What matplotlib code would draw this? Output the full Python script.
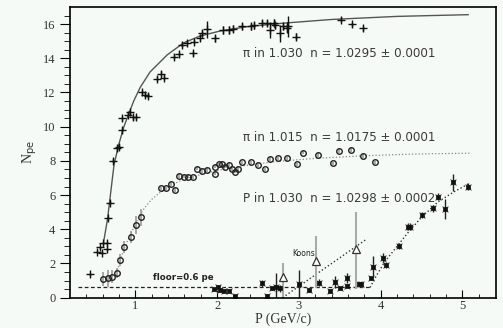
import numpy as np
import matplotlib.pyplot as plt

# pi in 1.030 aerogel (crosses)
pi30_x = [0.44, 0.53, 0.57, 0.59, 0.61, 0.65, 0.65, 0.67, 0.69, 0.73, 0.78, 0.80, 0.84, 0.84,
          0.91, 0.93, 0.97, 1.01, 1.08, 1.12, 1.16, 1.26, 1.31, 1.35, 1.47, 1.54, 1.57, 1.63,
          1.71, 1.72, 1.79, 1.82, 1.88, 1.98, 2.07, 2.14, 2.20, 2.30, 2.41, 2.45, 2.55, 2.61,
          2.65, 2.69, 2.71, 2.77, 2.81, 2.85, 2.87, 2.97, 3.51, 3.65, 3.78]
pi30_y = [1.37, 2.69, 2.95, 2.63, 3.18, 3.22, 2.83, 4.64, 5.56, 8.0, 8.74, 8.84, 9.8, 10.5,
          10.7, 10.83, 10.55, 10.55, 12.0, 11.86, 11.8, 12.8, 13.1, 12.87, 14.1, 14.24, 14.8, 14.88,
          14.3, 14.98, 15.2, 15.47, 15.7, 15.18, 15.66, 15.66, 15.72, 15.86, 15.86, 15.92, 16.06, 16.06,
          15.66, 16.06, 15.92, 15.47, 15.86, 15.8, 15.86, 15.27, 16.25, 16.0, 15.76]
pi30_err = [0.1, 0.1, 0.1, 0.1, 0.1, 0.1, 0.1, 0.1, 0.1, 0.15, 0.15, 0.15, 0.15, 0.15,
            0.15, 0.15, 0.15, 0.15, 0.15, 0.15, 0.15, 0.15, 0.15, 0.15, 0.15, 0.15, 0.15, 0.15,
            0.15, 0.15, 0.2, 0.2, 0.5, 0.2, 0.25, 0.25, 0.2, 0.2, 0.2, 0.2, 0.2, 0.2,
            0.45, 0.25, 0.2, 0.5, 0.2, 0.3, 0.6, 0.2, 0.15, 0.15, 0.15]

# pi in 1.015 aerogel (circles)
pi15_x = [0.61, 0.67, 0.72, 0.77, 0.81, 0.86, 0.95, 1.01, 1.07, 1.31, 1.37, 1.44, 1.49, 1.53,
          1.59, 1.65, 1.71, 1.75, 1.82, 1.88, 1.97, 1.97, 2.02, 2.06, 2.10, 2.14, 2.18, 2.22,
          2.26, 2.30, 2.41, 2.50, 2.59, 2.65, 2.75, 2.86, 2.98, 3.05, 3.23, 3.42, 3.49, 3.64,
          3.78, 3.93]
pi15_y = [1.08, 1.13, 1.23, 1.46, 2.2, 2.97, 3.53, 4.25, 4.7, 6.4, 6.4, 6.67, 6.3, 7.12,
          7.08, 7.08, 7.04, 7.55, 7.42, 7.47, 7.26, 7.67, 7.8, 7.8, 7.67, 7.77, 7.51, 7.37,
          7.53, 7.92, 7.92, 7.77, 7.51, 8.12, 8.15, 8.15, 7.8, 8.48, 8.35, 7.86, 8.58, 8.64,
          8.29, 7.92]
pi15_err = [0.4, 0.5, 0.4, 0.3, 0.35, 0.35, 0.35, 0.5, 0.5, 0.1, 0.1, 0.1, 0.1, 0.1,
            0.1, 0.1, 0.1, 0.1, 0.1, 0.1, 0.1, 0.1, 0.1, 0.1, 0.1, 0.1, 0.1, 0.1,
            0.1, 0.1, 0.1, 0.1, 0.1, 0.1, 0.1, 0.1, 0.1, 0.1, 0.1, 0.1, 0.1, 0.1,
            0.1, 0.1]

# protons in 1.030 aerogel (stars)
p30_x = [1.96, 2.01, 2.04, 2.09, 2.15, 2.22, 2.55, 2.61, 2.67, 2.72, 2.77, 3.00, 3.12, 3.24,
         3.38, 3.44, 3.50, 3.59, 3.59, 3.73, 3.76, 3.88, 3.91, 4.03, 4.06, 4.22, 4.33, 4.36,
         4.50, 4.64, 4.70, 4.79, 4.88, 5.07]
p30_y = [0.49, 0.64, 0.45, 0.41, 0.41, 0.08, 0.84, 0.1, 0.55, 0.64, 0.55, 0.8, 0.45, 0.88,
         0.38, 0.94, 0.55, 0.7, 1.13, 0.78, 0.78, 1.13, 1.81, 2.3, 1.91, 3.02, 4.15, 4.15,
         4.84, 5.23, 5.9, 5.2, 6.76, 6.5]
p30_err = [0.1, 0.1, 0.1, 0.1, 0.1, 0.1, 0.2, 0.1, 0.1, 0.8, 0.2, 0.8, 0.1, 0.2,
           0.1, 0.35, 0.1, 0.1, 0.3, 0.1, 0.1, 0.1, 0.6, 0.3, 0.2, 0.2, 0.2, 0.2,
           0.2, 0.2, 0.2, 0.6, 0.5, 0.2]

# Koons points (triangles)
koons_x = [2.81, 3.21, 3.70]
koons_y = [1.23, 2.17, 2.83]
koons_lo = [1.2, 1.6, 2.3]
koons_hi = [0.8, 1.45, 2.2]

# fitted curves
fit30_x = [0.61, 0.66, 0.70, 0.74, 0.80, 0.86, 0.98, 1.06, 1.18, 1.39, 1.59, 1.79, 2.04,
           2.37, 2.80, 3.40, 4.20, 5.07]
fit30_y = [3.2, 4.6, 6.2, 7.8, 9.0, 10.0, 11.5, 12.3, 13.2, 14.2, 14.9, 15.3, 15.6,
           15.85, 16.05, 16.27, 16.45, 16.55]
fit15_x = [0.78, 0.85, 0.92, 0.98, 1.05, 1.12, 1.20, 1.30, 1.45, 1.60, 1.80, 2.00, 2.30,
           2.70, 3.20, 3.80, 4.40, 5.09]
fit15_y = [1.6, 2.7, 3.5, 4.1, 4.8, 5.3, 5.75, 6.15, 6.6, 6.95, 7.2, 7.45, 7.7,
           7.95, 8.15, 8.3, 8.4, 8.45]
fitp_x = [3.87, 3.95, 4.05, 4.20, 4.35, 4.50, 4.70, 4.90, 5.09]
fitp_y = [0.6, 1.3, 2.1, 3.0, 3.9, 4.7, 5.6, 6.2, 6.7]
fitk_x = [2.80, 3.82]
fitk_y = [0.0, 3.4]
floor_x = [0.30, 3.87]
floor_y = [0.6, 0.6]

bg = "#f6faf6"
fig = plt.figure(figsize=(5.03, 3.28), dpi=100, facecolor=bg)
ax = fig.add_axes([0.139, 0.0924, 0.847, 0.8863], facecolor=bg)

# fits
ax.plot(fit30_x, fit30_y, "-", color="#555555", lw=1.0)
ax.plot(fit15_x, fit15_y, ":", color="#888888", lw=0.9)
ax.plot(fitp_x, fitp_y, ":", color="#333333", lw=1.0)
ax.plot(fitk_x, fitk_y, ":", color="#333333", lw=1.0)
ax.plot(floor_x, floor_y, "--", color="#222222", lw=0.9, dashes=(3, 2))

# data
ax.errorbar(pi30_x, pi30_y, yerr=pi30_err, fmt="+", color="#111111", ms=5.5, mew=1.0,
            elinewidth=1.0, capsize=0)
ax.errorbar(pi15_x, pi15_y, yerr=pi15_err, fmt="o", mfc="none", mec="#222222", ms=4,
            mew=1.0, ecolor="#999999", elinewidth=1.2, capsize=0)
ax.errorbar(p30_x, p30_y, yerr=p30_err, fmt="s", color="#111111", ms=3, mew=0.5,
            ecolor="#222222", elinewidth=1.0, capsize=0)
ax.plot(p30_x, p30_y, "x", color="#666666", ms=5, mew=0.8)
ax.errorbar(koons_x, koons_y, yerr=[koons_lo, koons_hi], fmt="^", mfc="white", mec="#333333",
            ms=6, mew=0.9, ecolor="#aaaaaa", elinewidth=1.5, capsize=0)

# annotations
tkw = dict(fontsize=8.6, family="DejaVu Sans", color="#3a3a3a")
ax.text(2.32, 14.1, "π in 1.030  n = 1.0295 ± 0.0001", **tkw)
ax.text(2.32, 9.15, "π in 1.015  n = 1.0175 ± 0.0001", **tkw)
ax.text(2.32, 5.6, "P in 1.030  n = 1.0298 ± 0.0002", **tkw)
ax.text(1.22, 1.05, "floor=0.6 pe", fontsize=6.2, family="DejaVu Sans", weight="bold",
        color="#222222")
ax.text(2.92, 2.45, "Koons", fontsize=5.5, family="DejaVu Sans", color="#222222")

ax.set_xlim(0.2, 5.41)
ax.set_ylim(0, 17)
ax.set_xticks([1, 2, 3, 4, 5])
ax.set_xticks(np.arange(0.4, 5.4, 0.2), minor=True)
ax.set_yticks(np.arange(0, 17, 2))
ax.set_yticks(np.arange(0, 17, 0.5), minor=True)
ax.tick_params(axis="x", which="both", direction="in", top=False, pad=2)
ax.tick_params(axis="x", which="major", length=6)
ax.tick_params(axis="x", which="minor", length=3)
ax.tick_params(axis="y", which="both", direction="out", right=False)
ax.tick_params(axis="y", which="major", length=7)
ax.tick_params(axis="y", which="minor", length=4)
for lab in ax.get_xticklabels() + ax.get_yticklabels():
    lab.set_family("Liberation Serif")
    lab.set_fontsize(9)
    lab.set_color("#333333")
for s in ax.spines.values():
    s.set_linewidth(1.2)

ax.set_xlabel("P (GeV/c)", family="Liberation Serif", fontsize=10, color="#333333",
              labelpad=0)
ax.set_ylabel(r"N$_{\rm pe}$", family="Liberation Serif", fontsize=10, color="#333333",
              labelpad=3)

fig.savefig("out.png", dpi=100, facecolor=bg)
